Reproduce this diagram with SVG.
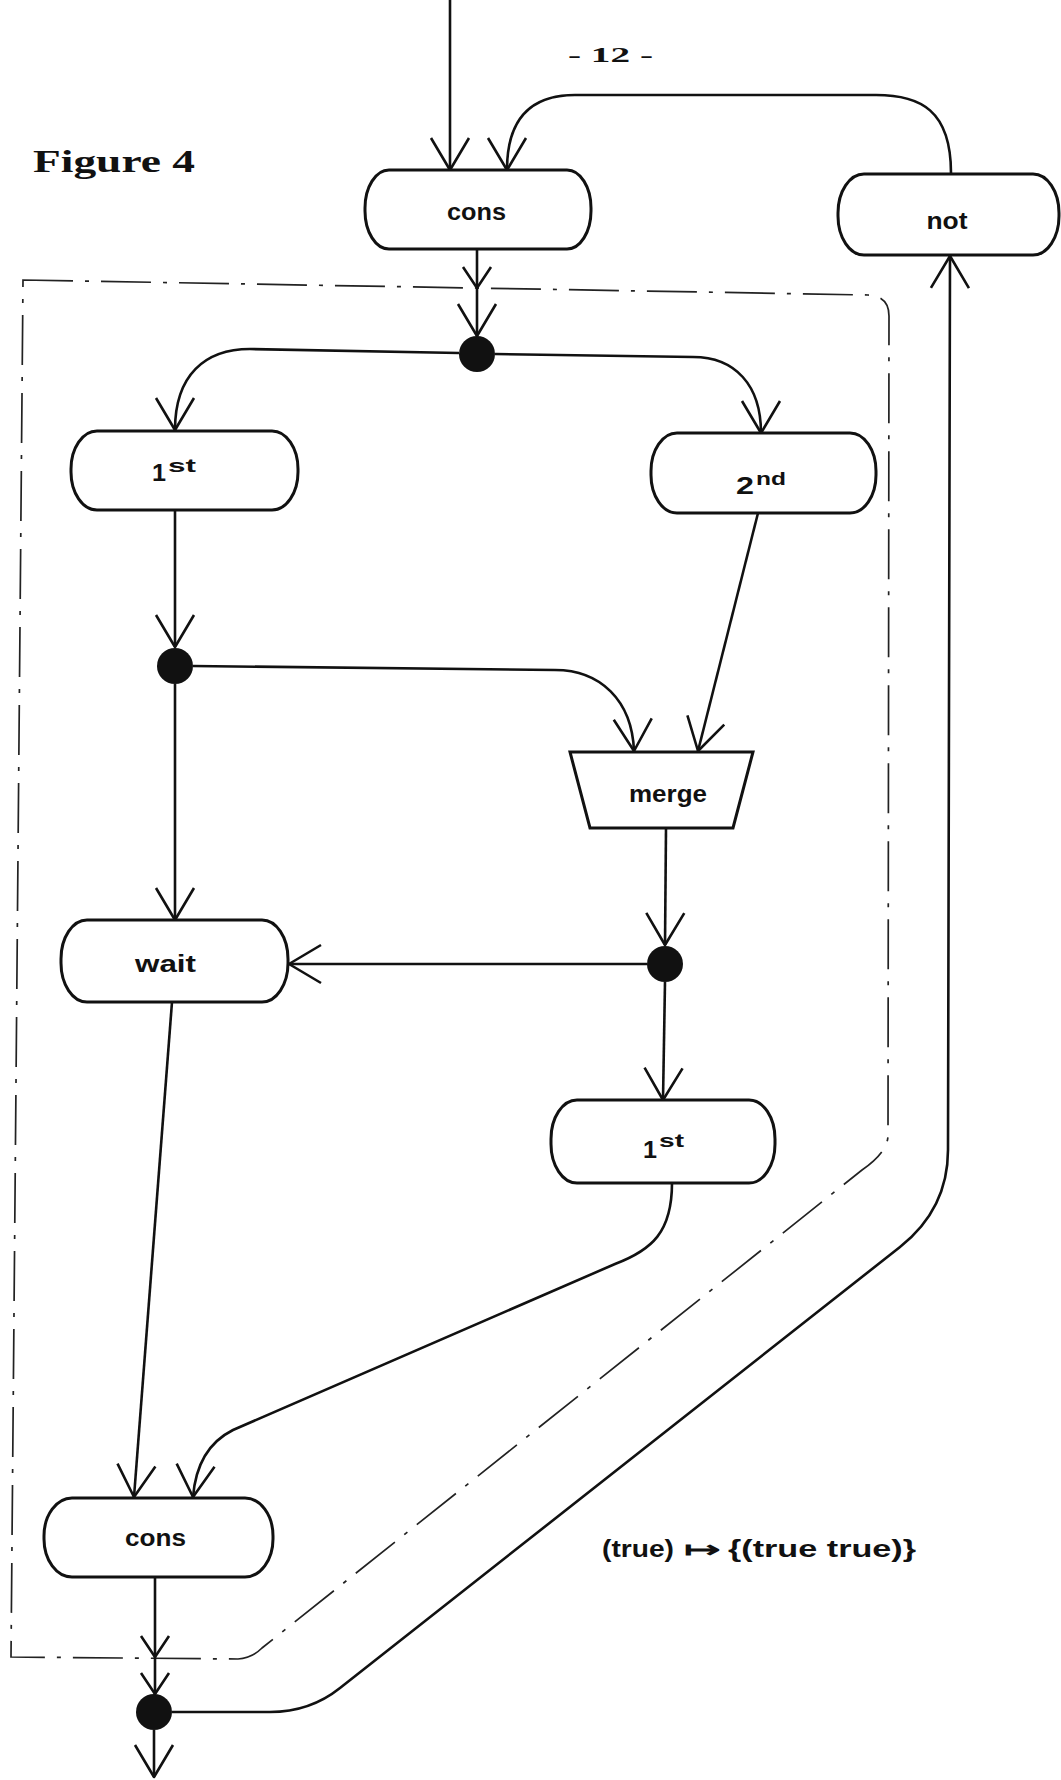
<svg xmlns="http://www.w3.org/2000/svg" width="1061" height="1780" viewBox="0 0 1061 1780">
<defs>
<marker id="a" markerUnits="userSpaceOnUse" markerWidth="40" markerHeight="44" viewBox="-36 -22 40 44" refX="0" refY="0" orient="auto" overflow="visible">
<path d="M-32,-19 L0,0 L-32,19" fill="none" stroke="#111" stroke-width="2.6" stroke-linejoin="round"/>
</marker>
<marker id="s" markerUnits="userSpaceOnUse" markerWidth="30" markerHeight="32" viewBox="-26 -16 30 32" refX="0" refY="0" orient="auto" overflow="visible">
<path d="M-21,-14 L0,0 L-21,14" fill="none" stroke="#111" stroke-width="2.6" stroke-linejoin="round"/>
</marker>
</defs>
<style>
.n{fill:#fff;stroke:#111;stroke-width:3}
.c{fill:none;stroke:#111;stroke-width:2.6}
.l{font-family:"Liberation Sans",Arial,sans-serif;font-weight:bold;font-size:23px;fill:#111}
.sup{font-size:19px}
.b{fill:none;stroke:#222;stroke-width:1.7;stroke-dasharray:50 12 4 12}
.d{fill:#111}
.t{font-family:"Liberation Serif","Times New Roman",serif;font-weight:bold;fill:#111}
</style>
<rect width="1061" height="1780" fill="#fff"/>

<text class="t" x="568" y="62" font-size="21" textLength="85" lengthAdjust="spacingAndGlyphs">- 12 -</text>
<text class="t" x="33" y="172" font-size="31" textLength="162" lengthAdjust="spacingAndGlyphs">Figure 4</text>

<path class="b" d="M23,280 L868,295 Q889,296 889,316 L888,1135 Q888,1152 862,1170 L262,1648 Q252,1658 238,1659 L11,1657 Z"/>

<g id="connectors">
<path class="c" d="M450,0 L450,170" marker-end="url(#a)"/>
<path class="c" d="M951,173 C951,110 920,95 876,95 L575,95 C530,95 507,120 507,170" marker-end="url(#a)"/>
<path class="c" d="M477,249 L477,288" marker-end="url(#s)"/>
<path class="c" d="M477,288 L477,336" marker-end="url(#a)"/>
<path class="c" d="M459,353 L250,349 C205,349 175,375 175,430" marker-end="url(#a)"/>
<path class="c" d="M495,354 L693,357 C735,357 761,385 761,433" marker-end="url(#a)"/>
<path class="c" d="M175,510 L175,647" marker-end="url(#a)"/>
<path class="c" d="M193,666 L555,670 C600,670 632,700 634,751" marker-end="url(#a)"/>
<path class="c" d="M758,513 L698,751" marker-end="url(#a)"/>
<path class="c" d="M175,684 L175,920" marker-end="url(#a)"/>
<path class="c" d="M666,828 L665,945" marker-end="url(#a)"/>
<path class="c" d="M647,964 L289,964" marker-end="url(#a)"/>
<path class="c" d="M665,982 L663,1100" marker-end="url(#a)"/>
<path class="c" d="M672,1183 C672,1232 652,1250 615,1264 L233,1430 Q197,1448 193,1497" marker-end="url(#a)"/>
<path class="c" d="M172,1002 L134,1497" marker-end="url(#a)"/>
<path class="c" d="M155,1577 L155,1657" marker-end="url(#s)"/>
<path class="c" d="M155,1657 L155,1694" marker-end="url(#s)"/>
<path class="c" d="M154,1730 L154,1777" marker-end="url(#a)"/>
<path class="c" d="M172,1712 L270,1712 Q310,1712 340,1688 L900,1247 Q948,1209 948,1150 L950,256" marker-end="url(#a)"/>
</g>

<g id="cons1"><rect class="n" x="365" y="170" width="226" height="79" rx="24" ry="38"/><text class="l" x="476.5" y="220" text-anchor="middle" textLength="59" lengthAdjust="spacingAndGlyphs">cons</text></g>
<g id="not"><rect class="n" x="838" y="174" width="221" height="81" rx="26" ry="39"/><text class="l" x="947" y="229" text-anchor="middle" textLength="41" lengthAdjust="spacingAndGlyphs">not</text></g>
<g id="fork1"><circle class="d" cx="477" cy="354" r="18"/></g>
<g id="first1"><rect class="n" x="71" y="431" width="227" height="79" rx="26" ry="38"/><text class="l"><tspan x="152" y="481" font-size="24" textLength="14" lengthAdjust="spacingAndGlyphs">1</tspan><tspan class="sup" x="168" y="472" textLength="28" lengthAdjust="spacingAndGlyphs">st</tspan></text></g>
<g id="second"><rect class="n" x="651" y="433" width="225" height="80" rx="26" ry="38"/><text class="l"><tspan x="736" y="494" font-size="24" textLength="18" lengthAdjust="spacingAndGlyphs">2</tspan><tspan class="sup" x="756" y="485" textLength="30" lengthAdjust="spacingAndGlyphs">nd</tspan></text></g>
<g id="fork2"><circle class="d" cx="175" cy="666" r="18"/></g>
<g id="merge"><polygon class="n" points="570,752 753,752 733,828 590,828"/><text class="l" x="668" y="802" text-anchor="middle" textLength="78" lengthAdjust="spacingAndGlyphs">merge</text></g>
<g id="fork3"><circle class="d" cx="665" cy="964" r="18"/></g>
<g id="wait"><rect class="n" x="61" y="920" width="227" height="82" rx="26" ry="39"/><text class="l" x="165.5" y="972" text-anchor="middle" textLength="61" lengthAdjust="spacingAndGlyphs">wait</text></g>
<g id="first2"><rect class="n" x="551" y="1100" width="224" height="83" rx="26" ry="39"/><text class="l"><tspan x="643" y="1158" font-size="24" textLength="14" lengthAdjust="spacingAndGlyphs">1</tspan><tspan class="sup" x="659" y="1147" textLength="25" lengthAdjust="spacingAndGlyphs">st</tspan></text></g>
<g id="cons2"><rect class="n" x="44" y="1498" width="229" height="79" rx="28" ry="38"/><text class="l" x="155.5" y="1546" text-anchor="middle" textLength="61" lengthAdjust="spacingAndGlyphs">cons</text></g>
<g id="fork4"><circle class="d" cx="154" cy="1712" r="18"/></g>

<g id="mapping">
<text class="l" x="602" y="1557" font-size="21" textLength="72" lengthAdjust="spacingAndGlyphs">(true)</text>
<text class="l" x="684" y="1557" font-size="26" textLength="36" lengthAdjust="spacingAndGlyphs" font-family="'DejaVu Sans',sans-serif">↦</text>
<text class="l" x="728" y="1557" font-size="21" textLength="188" lengthAdjust="spacingAndGlyphs">{(true true)}</text>
</g>
</svg>
